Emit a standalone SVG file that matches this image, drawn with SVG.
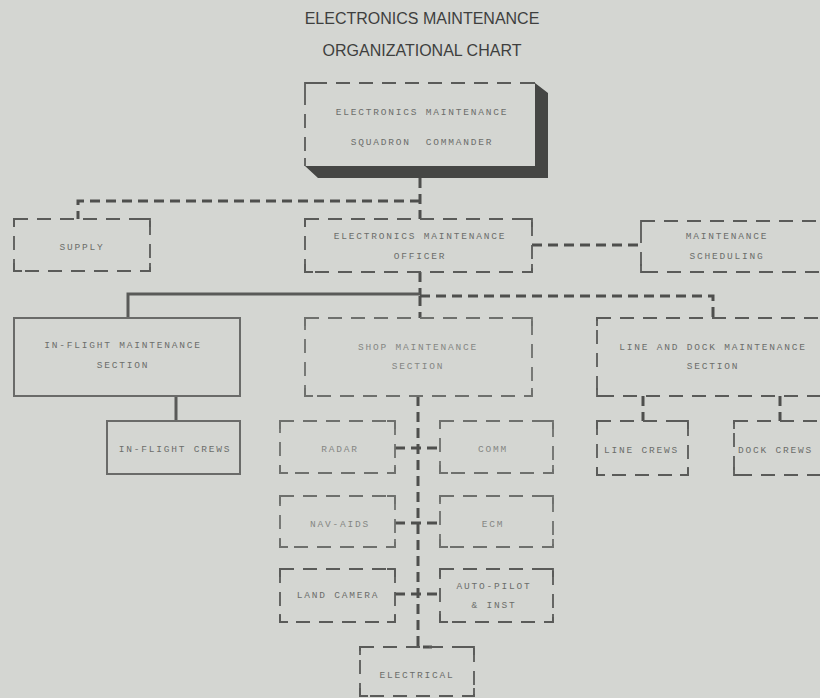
<svg xmlns="http://www.w3.org/2000/svg" width="820" height="698" viewBox="0 0 820 698">
<defs>
<style>
.bg{fill:#d4d6d2}
.title{font-family:"Liberation Sans",Arial,sans-serif;font-size:16px;fill:#3e3f3e;text-anchor:middle}
.lb{font-family:"Liberation Mono","DejaVu Sans Mono",monospace;font-size:9.5px;letter-spacing:1.8px;fill:#6c6e6b;text-anchor:middle;white-space:pre}
.lbl{fill:#858784}
.st{text-anchor:start}
.db{fill:none;stroke:#5a5b59;stroke-width:1.8;stroke-dasharray:14 9}
.cn{fill:none;stroke:#5a5b59;stroke-width:1.8}
.lt{stroke:#6e706d}
.sb{fill:none;stroke:#6a6b69;stroke-width:2}
.cd{fill:none;stroke:#4e4f4d;stroke-width:3;stroke-dasharray:10 6}
.cs{fill:none;stroke:#595a58;stroke-width:3}
.sh{fill:#454644}
</style>
</defs>
<rect class="bg" x="0" y="0" width="820" height="698"/>
<g id="title">
<text class="title" x="422" y="24">ELECTRONICS MAINTENANCE</text>
<text class="title" x="422" y="56">ORGANIZATIONAL CHART</text>
</g>
<g id="connectors">
<path class="cd" d="M420 178 V219"/>
<path class="cd" d="M420 201 H78 V219"/>
<path class="cd" d="M532 245 H641"/>
<path class="cd" d="M420 272 V295"/>
<path class="cs" d="M420 294 H128 V318"/>
<path class="cs" d="M176 396 V421"/>
<path class="cd" d="M420 296 H713 V318"/>
<path class="cd" d="M420 296 V318"/>
<path class="cd" d="M418 396 V647 H432"/>
<path class="cd" d="M395 448 H440"/>
<path class="cd" d="M395 523 H440"/>
<path class="cd" d="M395 594 H440"/>
<path class="cd" d="M643 396 V421"/>
<path class="cd" d="M780 396 V421"/>
</g>
<g id="commander">
<polygon class="sh" points="535,83 548,93 548,178 318,178 305,166 535,166"/>
<path class="cn" d="M305 166 V158 M305 91 V83 H313 M527 83 H535"/>
<path class="db" d="M313 83 H527 M305 91 V158"/>
<text class="lb" x="422" y="114.5">ELECTRONICS MAINTENANCE</text>
<text class="lb" x="422" y="144.5">SQUADRON  COMMANDER</text>
</g>
<g id="supply">
<rect class="db" x="14" y="219" width="136" height="52"/>
<path class="cn" d="M14 227V219H22M142 219H150V227M150 263V271H142M22 271H14V263"/>
<text class="lb" x="82" y="250">SUPPLY</text>
</g>
<g id="officer">
<rect class="db" x="305" y="219" width="227" height="53"/>
<path class="cn" d="M305 227V219H313M524 219H532V227M532 264V272H524M313 272H305V264"/>
<text class="lb" x="420" y="238.5">ELECTRONICS MAINTENANCE</text>
<text class="lb" x="420" y="258.5">OFFICER</text>
</g>
<g id="scheduling">
<rect class="db" x="641" y="221" width="190" height="51"/>
<path class="cn" d="M641 229V221H649M649 272H641V264"/>
<text class="lb" x="727" y="238.5">MAINTENANCE</text>
<text class="lb" x="727" y="258.5">SCHEDULING</text>
</g>
<g id="inflight">
<rect class="sb" x="14" y="318" width="226" height="78"/>
<text class="lb" x="123" y="347.5">IN-FLIGHT MAINTENANCE</text>
<text class="lb" x="123" y="367.5">SECTION</text>
</g>
<g id="inflight-crews">
<rect class="sb" x="107" y="421" width="133" height="53"/>
<text class="lb" x="175" y="451.5">IN-FLIGHT CREWS</text>
</g>
<g id="shop">
<rect class="db lt" x="305" y="318" width="227" height="78"/>
<path class="cn lt" d="M305 326V318H313M524 318H532V326M532 388V396H524M313 396H305V388"/>
<text class="lb lbl" x="418" y="349.5">SHOP MAINTENANCE</text>
<text class="lb lbl" x="418" y="368.5">SECTION</text>
</g>
<g id="linedock">
<rect class="db" x="597" y="318" width="234" height="78"/>
<path class="cn" d="M597 326V318H605M605 396H597V388"/>
<text class="lb" x="713" y="349.5">LINE AND DOCK MAINTENANCE</text>
<text class="lb" x="713" y="368.5">SECTION</text>
</g>
<g id="line-crews">
<rect class="db" x="597" y="421" width="91" height="54"/>
<path class="cn" d="M597 429V421H605M680 421H688V429M688 467V475H680M605 475H597V467"/>
<text class="lb st" x="604" y="452.5">LINE CREWS</text>
</g>
<g id="dock-crews">
<rect class="db" x="734" y="421" width="97" height="54"/>
<path class="cn" d="M734 429V421H742M742 475H734V467"/>
<text class="lb st" x="738" y="452.5">DOCK CREWS</text>
</g>
<g id="radar">
<rect class="db lt" x="280" y="421" width="115" height="52"/>
<path class="cn lt" d="M280 429V421H288M387 421H395V429M395 465V473H387M288 473H280V465"/>
<text class="lb lbl" x="340" y="451.5">RADAR</text>
</g>
<g id="comm">
<rect class="db lt" x="440" y="421" width="113" height="52"/>
<path class="cn lt" d="M440 429V421H448M545 421H553V429M553 465V473H545M448 473H440V465"/>
<text class="lb lbl" x="493" y="451.5">COMM</text>
</g>
<g id="navaids">
<rect class="db lt" x="280" y="496" width="115" height="51"/>
<path class="cn lt" d="M280 504V496H288M387 496H395V504M395 539V547H387M288 547H280V539"/>
<text class="lb lbl" x="340" y="526.5">NAV-AIDS</text>
</g>
<g id="ecm">
<rect class="db lt" x="440" y="496" width="113" height="51"/>
<path class="cn lt" d="M440 504V496H448M545 496H553V504M553 539V547H545M448 547H440V539"/>
<text class="lb lbl" x="493" y="526.5">ECM</text>
</g>
<g id="landcamera">
<rect class="db" x="280" y="569" width="115" height="53"/>
<path class="cn" d="M280 577V569H288M387 569H395V577M395 614V622H387M288 622H280V614"/>
<text class="lb" x="338" y="597.5">LAND CAMERA</text>
</g>
<g id="autopilot">
<rect class="db" x="440" y="569" width="113" height="53"/>
<path class="cn" d="M440 577V569H448M545 569H553V577M553 614V622H545M448 622H440V614"/>
<text class="lb" x="494" y="588.5">AUTO-PILOT</text>
<text class="lb" x="494" y="607.5">&amp; INST</text>
</g>
<g id="electrical">
<rect class="db" x="360" y="647" width="114" height="49"/>
<path class="cn" d="M360 655V647H368M466 647H474V655M474 688V696H466M368 696H360V688"/>
<text class="lb" x="417" y="678">ELECTRICAL</text>
</g>
</svg>
